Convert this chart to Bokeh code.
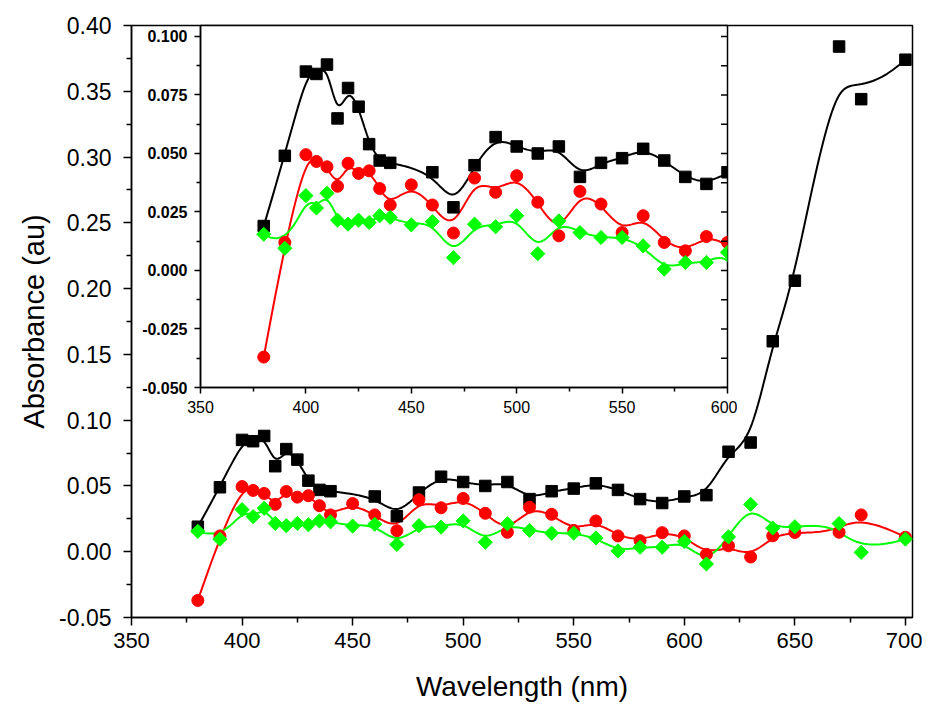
import numpy as np
from bokeh.plotting import figure
from bokeh.models import Range1d, FixedTicker, PrintfTickFormatter, Title
from bokeh.layouts import column
from bokeh.embed import file_html
from bokeh.resources import INLINE

# ---------------- data ----------------
wl_black = [380, 390, 400, 405, 410, 415, 420, 425, 430, 435, 440, 460, 470, 480, 490,
            500, 510, 520, 530, 540, 550, 560, 570, 580, 590, 600, 610, 620, 630, 640,
            650, 670, 680, 700]
abs_black = [0.019, 0.049, 0.085, 0.084, 0.088, 0.065, 0.078, 0.070, 0.054, 0.047, 0.046,
             0.042, 0.027, 0.045, 0.057, 0.053, 0.050, 0.053, 0.040, 0.046, 0.048, 0.052,
             0.047, 0.040, 0.037, 0.042, 0.043, 0.076, 0.083, 0.160, 0.206, 0.384, 0.344,
             0.374]

wl_red = [380, 390, 400, 405, 410, 415, 420, 425, 430, 435, 440, 450, 460, 470, 480, 490,
          500, 510, 520, 530, 540, 550, 560, 570, 580, 590, 600, 610, 620, 630, 640, 650,
          670, 680, 700]
abs_red = [-0.037, 0.012, 0.0495, 0.0466, 0.0443, 0.036, 0.0458, 0.0415, 0.0426, 0.035,
           0.028, 0.0366, 0.028, 0.016, 0.0395, 0.0334, 0.0405, 0.0292, 0.0148, 0.0338,
           0.0284, 0.0162, 0.0234, 0.012, 0.0084, 0.0145, 0.012, -0.002, 0.0045, -0.004,
           0.0121, 0.0146, 0.0148, 0.028, 0.011]

wl_green = [380, 390, 400, 405, 410, 415, 420, 425, 430, 435, 440, 450, 460, 470, 480, 490,
            500, 510, 520, 530, 540, 550, 560, 570, 580, 590, 600, 610, 620, 630, 640, 650,
            670, 680, 700]
abs_green = [0.0155, 0.0095, 0.032, 0.0267, 0.033, 0.0215, 0.0198, 0.0215, 0.0205, 0.0234,
             0.0227, 0.0195, 0.0209, 0.0055, 0.0198, 0.0187, 0.0234, 0.0072, 0.0212, 0.0162,
             0.0141, 0.0141, 0.0105, 0.0006, 0.0034, 0.0034, 0.0078, -0.0093, 0.0113, 0.036,
             0.018, 0.019, 0.0214, -0.0005, 0.0096]

main_xticks = [350, 400, 450, 500, 550, 600, 650, 700]
main_xminor = [375, 425, 475, 525, 575, 625, 675]
main_yticks = [-0.05, 0.0, 0.05, 0.10, 0.15, 0.20, 0.25, 0.30, 0.35, 0.40]
main_yminor = [-0.025, 0.025, 0.075, 0.125, 0.175, 0.225, 0.275, 0.325, 0.375]
inset_xticks = [350, 400, 450, 500, 550, 600]
inset_xminor = [375, 425, 475, 525, 575]
inset_yticks = [-0.050, -0.025, 0.000, 0.025, 0.050, 0.075, 0.100]
inset_yminor = [-0.0375, -0.0125, 0.0125, 0.0375, 0.0625, 0.0875]

x_title = "Wavelength (nm)"
y_title = "Absorbance (au)"

BLACK, RED, GREEN = "#000000", "#FF0000", "#00FF00"
FONT = "Liberation Sans"


def bspline(xs, ys, n_out=600):
    """Clamped cubic B-spline using the data points as control points (Origin 'B-Spline' line)."""
    P = np.column_stack([np.asarray(xs, float), np.asarray(ys, float)])
    n, k = len(P), 3
    t = np.concatenate([np.zeros(k), np.arange(n - k + 1, dtype=float), np.full(k, n - k, dtype=float)])
    u = np.linspace(0, n - k, n_out)
    u[-1] -= 1e-9
    N = np.array([((t[i] <= u) & (u < t[i + 1])).astype(float) for i in range(len(t) - 1)])
    for d in range(1, k + 1):
        Nn = np.zeros((len(t) - 1 - d, len(u)))
        for i in range(len(t) - 1 - d):
            a = t[i + d] - t[i]
            b = t[i + d + 1] - t[i + 1]
            term = np.zeros(len(u))
            if a > 0:
                term += (u - t[i]) / a * N[i]
            if b > 0:
                term += (t[i + d + 1] - u) / b * N[i + 1]
            Nn[i] = term
        N = Nn
    C = N.T @ P
    return C[:, 0], C[:, 1]


series = [
    (wl_black, abs_black, BLACK, "square"),
    (wl_red, abs_red, RED, "circle"),
    (wl_green, abs_green, GREEN, "diamond"),
]


def draw(fig):
    for xs, ys, col, mk in series:
        cx, cy = bspline(xs, ys)
        fig.line(cx, cy, line_color=col, line_width=2)
    for xs, ys, col, mk in series:
        if mk == "square":
            fig.scatter(xs, ys, marker="square", size=11.5, fill_color=col, line_color=col)
        elif mk == "circle":
            fig.scatter(xs, ys, marker="circle", size=12, fill_color=col, line_color=col)
        else:
            fig.scatter(xs, ys, marker="square", angle=np.pi / 4, size=10,
                        fill_color=col, line_color=col)


def style_axis(ax, tick_out, minor_out, font_size, font, bold=False):
    ax.axis_line_width = 1.5
    ax.axis_line_color = "black"
    ax.major_tick_line_width = 1.5
    ax.minor_tick_line_width = 1.5
    ax.major_tick_out = tick_out
    ax.major_tick_in = 0
    ax.minor_tick_out = minor_out
    ax.minor_tick_in = 0
    ax.major_label_text_font = font
    ax.major_label_text_font_size = font_size
    ax.major_label_text_color = "black"
    ax.major_label_text_font_style = "bold" if bold else "normal"


# ---------------- main plot ----------------
main = figure(width=922, height=713, x_range=Range1d(350, 703.2), y_range=Range1d(-0.05, 0.40),
              output_backend="svg", toolbar_location=None,
              min_border_left=131, min_border_right=10, min_border_top=25, min_border_bottom=96)
main.xgrid.visible = False
main.ygrid.visible = False
main.outline_line_color = "black"
main.outline_line_width = 1.5
main.background_fill_color = "white"
main.border_fill_color = "white"

main.xaxis.ticker = FixedTicker(ticks=main_xticks, minor_ticks=main_xminor)
main.yaxis.ticker = FixedTicker(ticks=main_yticks, minor_ticks=main_yminor)
main.yaxis.formatter = PrintfTickFormatter(format="%.2f")
style_axis(main.xaxis[0], 8, 5, "22px", FONT)
style_axis(main.yaxis[0], 8, 5, "23px", FONT)
main.xaxis.major_label_standoff = 7
main.yaxis.major_label_standoff = 12
main.xaxis.axis_label = x_title
main.xaxis.axis_label_text_font_style = "normal"
main.xaxis.axis_label_text_color = "black"
main.xaxis.axis_label_text_font = FONT
main.xaxis.axis_label_text_font_size = "28px"
main.xaxis.axis_label_standoff = 20

# y title on the left side, shifted a little below the frame centre as in the reference
main.add_layout(Title(text=y_title, align="center", offset=-22, standoff=14,
                      text_font=FONT, text_font_size="29px", text_font_style="normal",
                      text_color="black"), "left")

draw(main)

# ---------------- inset ----------------
inset = figure(width=668, height=397, x_range=Range1d(350, 600), y_range=Range1d(-0.05, 0.1047),
               output_backend="svg", toolbar_location=None,
               min_border_left=131, min_border_right=10, min_border_top=5, min_border_bottom=30)
inset.xgrid.visible = False
inset.ygrid.visible = False
inset.outline_line_color = "black"
inset.outline_line_width = 1.5
inset.background_fill_color = "white"
inset.border_fill_alpha = 0
inset.xaxis.ticker = FixedTicker(ticks=inset_xticks, minor_ticks=inset_xminor)
inset.yaxis.ticker = FixedTicker(ticks=inset_yticks, minor_ticks=inset_yminor)
inset.yaxis.formatter = PrintfTickFormatter(format="%.3f")
style_axis(inset.xaxis[0], 6, 4, "16px", FONT)
style_axis(inset.yaxis[0], 6, 4, "16px", FONT, bold=True)
inset.xaxis.major_label_standoff = 7
inset.yaxis.major_label_standoff = 7

draw(inset)

# inward ticks on the inset's right edge (half of each dash is clipped by the frame)
inset.scatter([600] * len(inset_yticks + inset_yminor), inset_yticks + inset_yminor,
              marker="dash", size=13, line_color="black", line_width=1.5)

inset.margin = (-693, 0, 0, 69)

layout = column(main, inset)
open("out.html", "w").write(file_html(layout, INLINE))
